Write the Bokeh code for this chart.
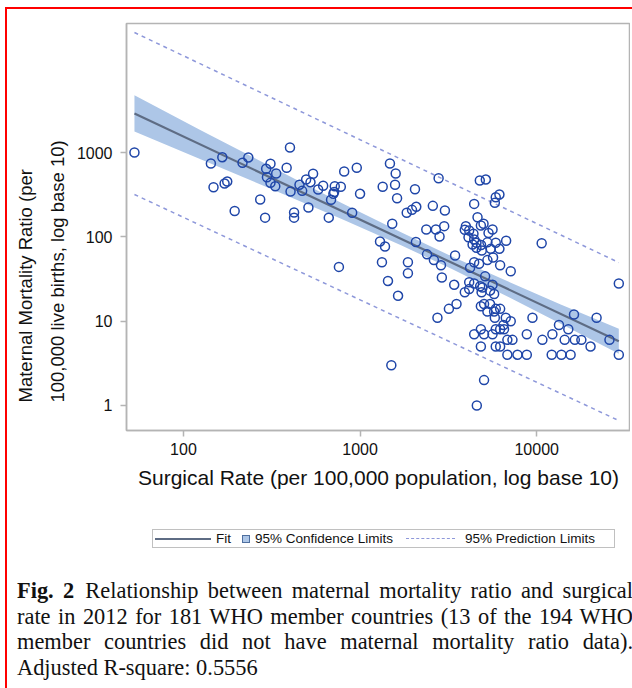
from bokeh.plotting import figure
from bokeh.models import Range1d, FixedTicker, Title, Div
from bokeh.layouts import column
from bokeh.embed import file_html
from bokeh.resources import INLINE

# ---------------- data ----------------
surgical_rate = [
    52.8, 143, 148, 166, 171, 177, 195, 216, 233, 272,
    290, 294, 311, 297, 311, 335, 331, 401, 384, 404,
    423, 423, 454, 470, 495, 524, 542, 510, 579, 618,
    719, 778, 706, 713, 685, 665, 813, 958, 1000, 902,
    759, 1343, 1476, 1591, 1578, 1620, 2046, 1521, 1297, 1384,
    1837, 1968, 2081, 2071, 2582, 2784, 3022, 2371, 2687, 2994,
    2818, 1330, 1866, 1866, 2393, 2618, 2871, 2904, 1439, 1641,
    2742, 3184, 1503, 4764, 5152, 4426, 5794, 5864, 6152, 4624,
    4830, 5000, 3972, 3917, 4147, 4385, 5623, 5337, 4111, 4426,
    4560, 4335, 4842, 5260, 5864, 6714, 6152, 5495, 10670, 4887,
    4560, 5662, 5260, 3451, 4426, 4721, 6209, 7129, 3412, 4198,
    5105, 4147, 4426, 4786, 4932, 5623, 5741, 5445, 3917, 4875,
    4147, 3516, 4830, 5035, 5445, 5260, 5741, 5864, 6209, 5794,
    6683, 7129, 6486, 9462, 4426, 4830, 5035, 5623, 5864, 6209,
    6531, 6823, 7290, 4830, 5864, 6209, 8790, 6823, 7780, 8790,
    10770, 12270, 13370, 12160, 13800, 14400, 15100, 5035, 4581, 29170,
    16260, 21830, 16440, 17900, 20180, 25820, 15560, 29170,
]
maternal_mortality = [
    1000, 741, 387, 880, 429, 453, 203, 755, 873, 277,
    169, 641, 735, 509, 437, 564, 398, 1146, 659, 345,
    194, 169, 414, 351, 478, 445, 559, 223, 364, 403,
    398, 392, 324, 340, 275, 169, 595, 659, 324, 193,
    44, 392, 741, 564, 414, 287, 367, 143, 88, 77,
    193, 209, 227, 87, 233, 495, 205, 122, 122, 134,
    101, 50, 50, 37, 62, 53, 46, 33, 30, 20,
    11, 14, 3, 466, 478, 246, 253, 295, 318, 171,
    136, 143, 134, 121, 119, 109, 122, 111, 99, 93,
    85, 81, 80, 86, 85, 90, 72, 72, 84, 69,
    74, 57, 53, 60, 50, 48, 46, 39, 27, 43,
    34, 29, 28, 26, 25, 27, 21, 23, 22, 22,
    24, 16, 15, 16, 16, 13, 13, 14, 14, 11,
    11, 10, 9, 11, 7, 8, 7, 7, 8, 8,
    8, 6, 6, 5, 5, 5, 7, 4, 4, 4,
    6, 7, 9, 4, 4, 6, 8, 2, 1, 28,
    12, 11, 6, 6, 5, 6, 4, 4,
]

fit_x = [52.8, 29170]
fit_y = [2904, 5.78]

band_x = [52.8, 126, 314, 781, 1706, 3268, 6266, 13680, 29170]
band_lo = [1770, 824, 370, 164, 79.5, 42.0, 21.5, 9.29, 4.12]
band_hi = [4765, 1827, 679, 254, 113, 59.3, 32.2, 15.8, 8.11]

pred_x = [52.8, 1000, 29170]
pred_lo = [318, 17.9, 0.662]
pred_hi = [26500, 1419, 49.6]

x_ticks = [100, 1000, 10000]
x_tick_labels = ["100", "1000", "10000"]
y_ticks = [1, 10, 100, 1000]
y_tick_labels = ["1", "10", "100", "1000"]

legend_labels = ["Fit", "95% Confidence Limits", "95% Prediction Limits"]
x_title = "Surgical Rate (per 100,000 population, log base 10)"
y_title_lines = ["Maternal Mortality Ratio (per", "100,000 live births, log base 10)"]

caption_lines = [
    "Relationship between maternal mortality ratio and surgical",
    "rate in 2012 for 181 WHO member countries (13 of the 194 WHO",
    "member countries did not have maternal mortality ratio data).",
    "Adjusted R-square: 0.5556",
]

# ---------------- styles ----------------
AXIS_GREY = "#b4b4b4"
MARKER = "#1f46a8"
FIT = "#5e6c84"
BAND = "#adc6e7"
PRED = "#8e98da"
SANS = "Liberation Sans"

p = figure(
    width=623, height=491,
    x_axis_type="log", y_axis_type="log",
    x_range=Range1d(47.6, 33970), y_range=Range1d(0.505, 33900),
    output_backend="svg", toolbar_location=None,
    min_border_left=118, min_border_right=0, min_border_top=14, min_border_bottom=70,
)
p.background_fill_color = "white"
p.border_fill_color = "white"
p.outline_line_color = AXIS_GREY
p.outline_line_width = 1.5
p.xgrid.visible = False
p.ygrid.visible = False

p.varea(x=band_x, y1=band_lo, y2=band_hi, fill_color=BAND, fill_alpha=1.0)
p.line(fit_x, fit_y, line_color=FIT, line_width=2.2)
p.line(pred_x, pred_hi, line_color=PRED, line_width=1.5, line_dash="4 4")
p.line(pred_x, pred_lo, line_color=PRED, line_width=1.5, line_dash="4 4")
p.scatter(surgical_rate, maternal_mortality, marker="circle", size=9,
          fill_color=None, line_color=MARKER, line_width=1.5)

for ax, ticks, labels, st in ((p.xaxis[0], x_ticks, x_tick_labels, 6),
                              (p.yaxis[0], y_ticks, y_tick_labels, 8)):
    ax.ticker = FixedTicker(ticks=ticks, minor_ticks=[])
    ax.major_label_overrides = {t: l for t, l in zip(ticks, labels)}
    ax.axis_line_color = AXIS_GREY
    ax.axis_line_width = 1.5
    ax.major_tick_line_color = AXIS_GREY
    ax.major_tick_line_width = 1.5
    ax.major_tick_out = 6
    ax.major_tick_in = 0
    ax.minor_tick_line_color = None
    ax.major_label_text_font = SANS
    ax.major_label_text_font_size = "16px"
    ax.major_label_text_color = "#111111"
    ax.major_label_standoff = st

p.xaxis.axis_label = x_title
p.xaxis.axis_label_text_font = SANS
p.xaxis.axis_label_text_font_size = "21px"
p.xaxis.axis_label_text_font_style = "normal"
p.xaxis.axis_label_text_color = "#111111"
p.xaxis.axis_label_standoff = 8

# two-line y title, left aligned
p.add_layout(Title(text="\n".join(y_title_lines), align="left", offset=28, standoff=10,
                   text_font=SANS, text_font_size="18.5px", text_font_style="normal",
                   text_line_height=1.55, text_color="#111111"), "left")

# legend + caption (HTML below the plot)
legend_html = (
    '<div style="margin:24px 0 0 140px;width:463px;height:19px;box-sizing:border-box;'
    'border:1.5px solid #c0c0c0;display:flex;align-items:center;'
    'font-family:\'Liberation Sans\',sans-serif;font-size:13.5px;color:#111;white-space:nowrap;">'
    '<span style="display:inline-block;width:56px;border-top:2.2px solid %s;margin-left:2px;"></span>'
    '<span style="margin-left:5px;">%s</span>'
    '<span style="display:inline-block;width:8px;height:8px;box-sizing:border-box;background:%s;'
    'border:1px solid #4f6f9f;margin-left:11px;"></span>'
    '<span style="margin-left:5px;">%s</span>'
    '<span style="display:inline-block;width:49px;border-top:1.5px dashed %s;margin-left:13px;"></span>'
    '<span style="margin-left:10px;">%s</span>'
    '</div>' % (FIT, legend_labels[0], BAND, legend_labels[1], PRED, legend_labels[2])
)
jl = 'text-align:justify;text-align-last:justify;'
caption_html = (
    '<div style="font-family:\'Liberation Serif\',serif;font-size:22.4px;line-height:25.7px;'
    'color:#111;width:616px;margin:30px 0 0 5px;">'
    '<div style="%s"><b>Fig. 2</b>&ensp;%s</div>'
    '<div style="%s">%s</div>'
    '<div style="%s">%s</div>'
    '<div>%s</div>'
    '</div>' % (jl, caption_lines[0], jl, caption_lines[1], jl, caption_lines[2], caption_lines[3])
)
bottom = Div(text=legend_html + caption_html, width=623, height=180)

layout = column(p, bottom, styles={"border-left": "2px solid #ff0000", "border-top": "2px solid #ff0000",
                                   "margin-left": "5px", "margin-top": "7px", "background": "white"})

open("out.html", "w").write(file_html(layout, INLINE))
